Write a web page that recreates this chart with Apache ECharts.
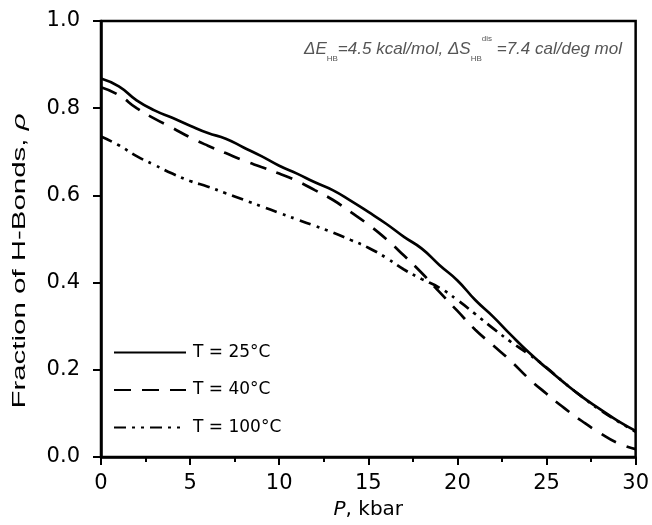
<!DOCTYPE html>
<html><head><meta charset="utf-8">
<script src="https://cdn.jsdelivr.net/npm/echarts@6/dist/echarts.min.js"></script>
<style>html,body{margin:0;padding:0;background:#fff}#c{width:652px;height:525px}</style>
</head><body><div id="c"></div>
<script>
const pressure = [0,1,2,3,4,5,6,7,8,9,10,11,12,13,14,15,16,17,18,19,20,21,22,23,24,25,26,27,28,29,30];
const t25 = [0.868,0.850,0.818,0.795,0.778,0.760,0.743,0.730,0.710,0.690,0.668,0.650,0.630,0.612,0.588,0.562,0.535,0.505,0.478,0.440,0.405,0.360,0.322,0.280,0.240,0.204,0.170,0.138,0.110,0.083,0.060];
const t40 = [0.848,0.830,0.800,0.776,0.755,0.733,0.714,0.697,0.680,0.665,0.650,0.633,0.612,0.590,0.562,0.533,0.500,0.462,0.422,0.378,0.335,0.292,0.256,0.220,0.180,0.145,0.112,0.082,0.055,0.032,0.018];
const t100 = [0.735,0.715,0.690,0.670,0.650,0.633,0.620,0.605,0.590,0.575,0.560,0.545,0.530,0.515,0.498,0.480,0.457,0.430,0.408,0.388,0.360,0.328,0.295,0.264,0.236,0.205,0.170,0.138,0.108,0.082,0.058];
const seriesNames = ['T = 25°C','T = 40°C','T = 100°C'];
const yTitle = 'Fraction of H-Bonds, ';

const chart = echarts.init(document.getElementById('c'));
const pts = a => pressure.map((x,i)=>[x,a[i]]);
const font = 'Liberation Sans, Arial, sans-serif';
const wide = 'DejaVu Sans, sans-serif';
chart.setOption({
  animation:false,
  grid:{left:101,right:15,top:21,bottom:68,show:true,borderColor:'#000',borderWidth:2.5},
  title:{
    text:'{a|ΔE}{s|HB}{a|=4.5 kcal/mol, ΔS}{s|HB}{p|dis}{a| =7.4 cal/deg mol}',
    left:299, top:30,
    textStyle:{fontWeight:'normal',rich:{
      a:{fontFamily:font,fontStyle:'italic',fontWeight:'normal',fontSize:17,color:'#555',lineHeight:28,verticalAlign:'middle'},
      s:{fontFamily:font,fontWeight:'normal',fontSize:8,color:'#555',verticalAlign:'bottom',lineHeight:28},
      p:{fontFamily:font,fontWeight:'normal',fontSize:8,color:'#555',verticalAlign:'top',lineHeight:28}
    }}
  },
  legend:{
    orient:'vertical', left:108, top:339, itemWidth:72, itemHeight:17, itemGap:20.5,
    itemStyle:{opacity:0},
    textStyle:{fontFamily:wide,fontSize:17,color:'#000',padding:[0,0,0,2]},
    data:seriesNames
  },
  graphic:[{
    type:'text', x:20, y:261, rotation:Math.PI/2, scaleX:1.55, scaleY:1,
    style:{text:yTitle+'{i|ρ}', font:'19px '+font, fill:'#000', align:'center', verticalAlign:'middle',
      rich:{i:{fontFamily:font,fontSize:19,fontStyle:'italic',fill:'#000'}}}
  }],
  xAxis:{
    type:'value',min:0,max:30,interval:5,
    name:'{i|P}, kbar',nameLocation:'middle',nameGap:43,
    nameTextStyle:{fontFamily:wide,fontSize:20,color:'#000',rich:{i:{fontFamily:wide,fontSize:20,fontStyle:'italic',color:'#000'}}},
    axisLine:{lineStyle:{color:'#000',width:2.5}},
    axisTick:{show:true,length:8,lineStyle:{color:'#000',width:2}},
    minorTick:{show:true,splitNumber:2,length:5,lineStyle:{color:'#000',width:2}},
    axisLabel:{fontFamily:wide,fontSize:21,color:'#000',margin:16},
    splitLine:{show:false}
  },
  yAxis:{
    type:'value',min:0,max:1,interval:0.2,
    axisLine:{lineStyle:{color:'#000',width:2.5}},
    axisTick:{show:true,length:8,lineStyle:{color:'#000',width:2}},
    axisLabel:{fontFamily:wide,fontSize:21,color:'#000',margin:21,formatter:v=>v.toFixed(1)},
    splitLine:{show:false}
  },
  series:[
    {name:seriesNames[0],type:'line',data:pts(t25),smooth:true,symbol:'none',lineStyle:{color:'#000',width:2.7,type:'solid'},itemStyle:{color:'#000'}},
    {name:seriesNames[1],type:'line',data:pts(t40),smooth:true,symbol:'none',lineStyle:{color:'#000',width:2.7,type:[17,11]},itemStyle:{color:'#000'}},
    {name:seriesNames[2],type:'line',data:pts(t100),smooth:true,symbol:'none',lineStyle:{color:'#000',width:2.7,type:[12,6,3,6,3,6]},itemStyle:{color:'#000'}}
  ]
});
</script></body></html>
